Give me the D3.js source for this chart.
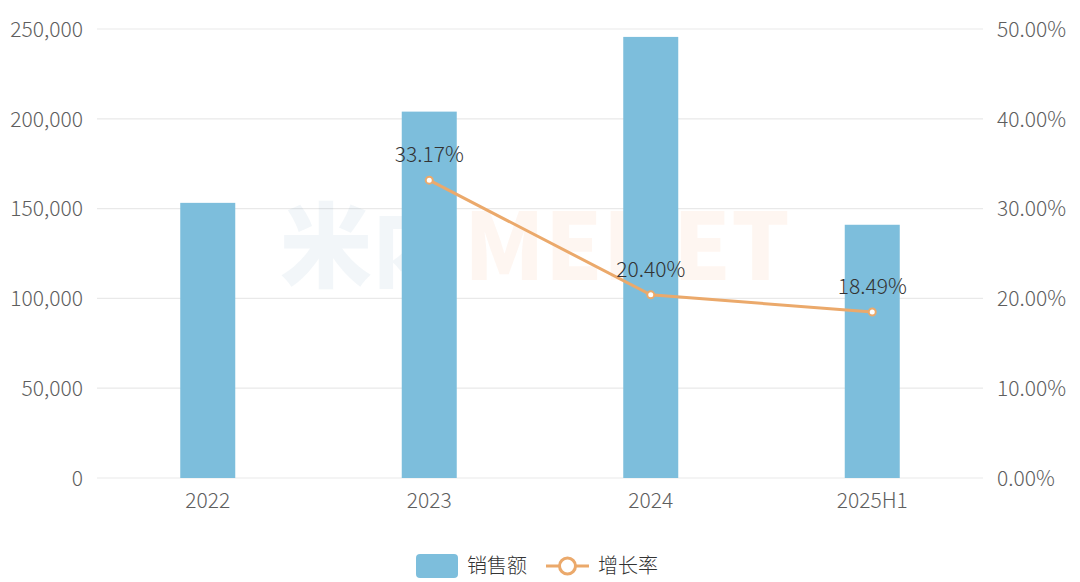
<!DOCTYPE html>
<html><head><meta charset="utf-8">
<script src="https://cdn.jsdelivr.net/npm/d3@7"></script>
<style>body{margin:0;background:#fff}svg{display:block}text{font-family:"Noto Sans CJK SC","Open Sans",sans-serif}</style>
</head><body><svg id="c" width="1080" height="582"></svg>
<script>
const categories = ["2022","2023","2024","2025H1"];
const sales = [153200, 204000, 245600, 141000];
const growth = [null, 33.17, 20.40, 18.49];
const leftTicks = [0, 50000, 100000, 150000, 200000, 250000];
const rightTicks = [0, 10, 20, 30, 40, 50];
const seriesNames = ["销售额", "增长率"];

const svg = d3.select("#c");
const m = {l: 97, r: 983, t: 29, b: 478};
const x = d3.scaleBand().domain(categories).range([m.l, m.r]);
const yL = d3.scaleLinear().domain([0, 250000]).range([m.b, m.t]);
const yR = d3.scaleLinear().domain([0, 50]).range([m.b, m.t]);
const barColor = "#7dbedc", lineColor = "#eba96b";
const FF = "Noto Sans CJK SC, sans-serif";

// grid
svg.append("g").selectAll("line").data(leftTicks).join("line")
  .attr("x1", m.l).attr("x2", m.r).attr("y1", d => yL(d)).attr("y2", d => yL(d))
  .attr("stroke", "#e9e9e9").attr("stroke-width", 1.2);

// watermark
const wm = svg.append("text").attr("x", 280).attr("y", 280).attr("font-size", 92).attr("font-weight", 900)
  .attr("font-family", FF);
wm.append("tspan").text("米内").attr("fill", "#5a8fb0").attr("fill-opacity", 0.08);
wm.append("tspan").text("MENET").attr("fill", "#f0a060").attr("fill-opacity", 0.09);

// axes
const axL = svg.append("g").attr("transform", `translate(${m.l - 11},0)`)
  .call(d3.axisLeft(yL).tickValues(leftTicks).tickSize(0).tickFormat(d3.format(",")));
const axR = svg.append("g").attr("transform", `translate(${m.r + 11},0)`)
  .call(d3.axisRight(yR).tickValues(rightTicks).tickSize(0).tickFormat(d => d.toFixed(2) + "%"));
const axB = svg.append("g").attr("transform", `translate(0,${m.b + 10})`)
  .call(d3.axisBottom(x).tickSize(0));
[axL, axR, axB].forEach(a => {
  a.select(".domain").remove();
  a.selectAll("text").attr("fill", "#5e5e5e").attr("font-size", 21).attr("font-weight", 300)
    .attr("font-family", FF);
});
axL.selectAll("text").attr("dy", "0.35em");
axR.selectAll("text").attr("dy", "0.35em");
axB.selectAll("text").attr("dy", "0.8em");

// bars
const bw = 55;
svg.append("g").selectAll("rect").data(sales).join("rect")
  .attr("x", (d, i) => x(categories[i]) + x.bandwidth() / 2 - bw / 2)
  .attr("width", bw)
  .attr("y", d => yL(d)).attr("height", d => yL(0) - yL(d))
  .attr("fill", barColor);

// line
const pts = growth.map((g, i) => ({c: categories[i], g})).filter(d => d.g != null);
svg.append("path").datum(pts)
  .attr("d", d3.line().x(d => x(d.c) + x.bandwidth() / 2).y(d => yR(d.g)))
  .attr("fill", "none").attr("stroke", lineColor).attr("stroke-width", 3);
svg.append("g").selectAll("circle").data(pts).join("circle")
  .attr("cx", d => x(d.c) + x.bandwidth() / 2).attr("cy", d => yR(d.g)).attr("r", 3.5)
  .attr("fill", "#fff").attr("stroke", lineColor).attr("stroke-width", 2);
svg.append("g").selectAll("text").data(pts).join("text")
  .attr("x", d => x(d.c) + x.bandwidth() / 2).attr("y", d => yR(d.g) - 18)
  .attr("text-anchor", "middle").attr("font-size", 21).attr("font-weight", 300).attr("fill", "#333")
  .attr("font-family", FF)
  .text(d => d.g.toFixed(2) + "%");

// legend
const lg = svg.append("g");
lg.append("rect").attr("x", 416).attr("y", 554).attr("width", 42).attr("height", 24).attr("rx", 4).attr("fill", barColor);
lg.append("text").attr("x", 467).attr("y", 566).attr("dy", "0.35em").attr("font-size", 20).attr("font-weight", 300).attr("fill", "#333").text(seriesNames[0]);
lg.append("line").attr("x1", 546).attr("x2", 589).attr("y1", 566).attr("y2", 566).attr("stroke", lineColor).attr("stroke-width", 3);
lg.append("circle").attr("cx", 567.5).attr("cy", 566).attr("r", 8).attr("fill", "#fff").attr("stroke", lineColor).attr("stroke-width", 3);
lg.append("text").attr("x", 598).attr("y", 566).attr("dy", "0.35em").attr("font-size", 20).attr("font-weight", 300).attr("fill", "#333").text(seriesNames[1]);
</script></body></html>
